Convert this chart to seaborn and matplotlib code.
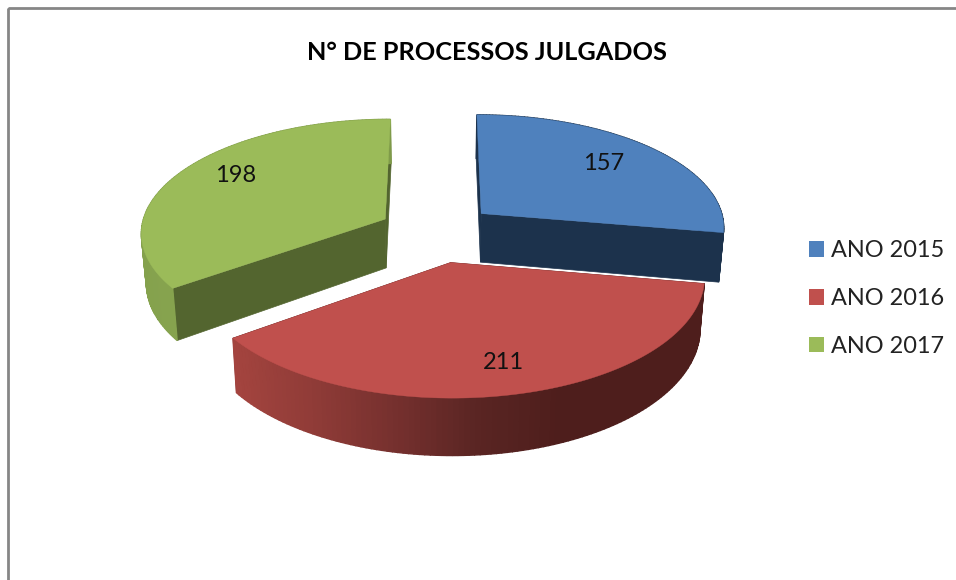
#!/usr/bin/env python3
"""Exploded 3D-look pie: N. de processos julgados por ano."""

import numpy as np
import matplotlib.pyplot as plt
from matplotlib.patches import Patch, Rectangle
import seaborn as sns

# Data
years = ["ANO 2015", "ANO 2016", "ANO 2017"]
processes = [157, 211, 198]
title = "N° DE PROCESSOS JULGADOS"

# Colours
top_colors = ["#4f81bd", "#c0504d", "#9bbb59"]
cut_colors = ["#1c324c", "#5a1f1d", "#53652f"]
rim_ramps = [["#1c324c", "#1c324c"],
             ["#a4443f", "#8f3b37", "#75302e", "#5a2523", "#4e1e1c"],
             ["#86a34e", "#7f9b49"]]
label_radii = [0.71, 0.82, 0.73]
label_lift = [4, 2, 9]

sns.set_theme(style="white")
plt.rcParams['font.family'] = ['Lato', 'DejaVu Sans']

# Projection of the unit disc on to the picture
CX, CY = 437, 232.5
RX, RY = 245, 113.5
PERSP = 0.11
EXPLODE = 0.24
EXPLODE_Y = 1.1
DEPTH = 49.5
BOTTOM_SHRINK = 0.983


def project(x, y, lower=False):
    s = 1 / (1 + PERSP * y)
    px = RX * x * s
    py = CY - RY * y * s
    if lower:
        return CX + px * BOTTOM_SHRINK, py + DEPTH * s
    return CX + px, py


fig = plt.figure(figsize=(9.56, 5.8), dpi=100)
ax = fig.add_axes([0, 0, 1, 1])
ax.set_xlim(0, 956)
ax.set_ylim(580, 0)
ax.axis("off")

# Chart frame, open on the right and at the bottom as in the crop
ax.add_patch(Rectangle((8, 8), 1200, 800, fill=False, edgecolor="#868686", linewidth=2))

angles = np.cumsum([0] + processes) / np.sum(processes) * 2 * np.pi
order = [2, 0, 1]  # back slices first

for i in order:
    a0, a1 = angles[i], angles[i + 1]
    mid = (a0 + a1) / 2
    ox, oy = EXPLODE * np.sin(mid), EXPLODE * EXPLODE_Y * np.cos(mid)
    th = np.linspace(a0, a1, 120)
    rim_x = ox + np.sin(th)
    rim_y = oy + np.cos(th)

    # the two cut faces
    for edge in (a0, a1):
        ex, ey = ox + np.sin(edge), oy + np.cos(edge)
        t0, t1 = project(ox, oy), project(ex, ey)
        b1, b0 = project(ex, ey, True), project(ox, oy, True)
        ax.fill([t0[0], t1[0], b1[0], b0[0]], [t0[1], t1[1], b1[1], b0[1]],
                color=cut_colors[i], linewidth=0.5)

    # the rim, in narrow strips coloured along the screen x
    ramp = sns.blend_palette(rim_ramps[i], n_colors=256)
    tx, ty = project(rim_x, rim_y)
    bx, by = project(rim_x, rim_y, True)
    for k in range(len(th) - 1):
        if i == 1:
            c = ramp[int(np.clip((tx[k] - 235) / (560 - 235), 0, 1) * 255)]
        else:
            c = ramp[int(k / (len(th) - 1) * 255)]
        ax.fill([tx[k], tx[k + 1], bx[k + 1], bx[k]],
                [ty[k], ty[k + 1], by[k + 1], by[k]],
                color=c, linewidth=1.0)

    # top face
    ax0, ay0 = project(ox, oy)
    ax.fill(np.r_[ax0, tx], np.r_[ay0, ty], color=top_colors[i], linewidth=0.3)

# Data labels
for i, val in enumerate(processes):
    mid = (angles[i] + angles[i + 1]) / 2
    r = EXPLODE + label_radii[i]
    lx, ly = project(r * np.sin(mid), r * np.cos(mid))
    ax.text(lx, ly - label_lift[i], str(val), ha="center", va="center", fontsize=17, color="#111111")

ax.text(487, 52, title, ha="center", va="center", fontsize=18.2, fontweight="bold", color="black")

handles = [Patch(facecolor=c, edgecolor="none") for c in top_colors]
ax.legend(handles, years, loc="center left", bbox_to_anchor=(0.846, 0.485), frameon=False,
          fontsize=16.9, handlelength=0.64, handleheight=0.64, handletextpad=0.3,
          labelspacing=1.14, borderpad=0, borderaxespad=0, labelcolor="#222222")

fig.savefig("out.png", dpi=100)
